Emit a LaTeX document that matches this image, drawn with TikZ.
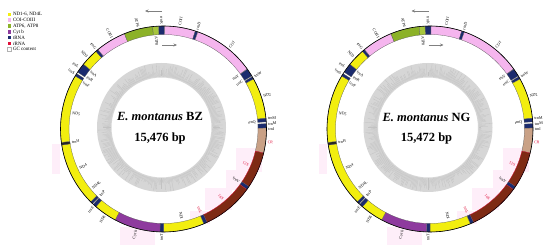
\documentclass[tikz,border=0pt]{standalone}
\usepackage{fontspec}
\setmainfont{Liberation Serif}
\usetikzlibrary{arrows.meta}
\definecolor{ndY}{HTML}{F2EE0F}
\definecolor{coxP}{HTML}{F5B5EE}
\definecolor{atpG}{HTML}{8CB228}
\definecolor{atpL}{HTML}{A6C63C}
\definecolor{cybP}{HTML}{8E3A9E}
\definecolor{trnB}{HTML}{1B2B6E}
\definecolor{rrnR}{HTML}{7E2A14}
\definecolor{crT}{HTML}{C9A186}
\definecolor{labR}{HTML}{E0103A}
\definecolor{blot}{HTML}{FEEEF9}
\newcommand\gRin{94.5}
\newcommand\gRout{103}
\newcommand{\gseg}[4][black!65]{\filldraw[fill=#4, draw=#1, line width=0.25pt] (#2:\gRin) arc[start angle=#2, end angle=#3, radius=\gRin] -- (#3:\gRout) arc[start angle=#3, end angle=#2, radius=\gRout] -- cycle;}
\newcommand{\olab}[3][black]{%
  \pgfmathtruncatemacro\gside{cos(#2)>-0.001}%
  \ifnum\gside=1 \def\grot{#2}\def\ganc{west}\else\pgfmathsetmacro\grot{#2+180}\def\ganc{east}\fi
  \node[glab, text=#1, rotate=\grot, anchor=\ganc] at (#2:104.5) {#3};}
\newcommand{\ilab}[3][black]{%
  \pgfmathtruncatemacro\gside{cos(#2)>-0.001}%
  \ifnum\gside=1 \def\grot{#2}\def\ganc{east}\else\pgfmathsetmacro\grot{#2+180}\def\ganc{west}\fi
  \node[glab, text=#1, rotate=\grot, anchor=\ganc] at (#2:93) {#3};}
\newcommand{\gmap}[2]{%
  % faint pink label backgrounds
  \fill[blot] (72.5,-43) rectangle (98.5,-19);
  \fill[blot] (62.5,-61) rectangle (84.5,-41);
  \fill[blot] (41.5,-81) rectangle (68.5,-59);
  \fill[blot] (26.5,-95) rectangle (46.5,-82);
  \fill[blot] (-111.5,-45) rectangle (-103.5,-15);
  \fill[blot] (-43.5,-116) rectangle (-8.5,-98);
  % GC content ring
  \begin{scope}[shift={(-2,1.5)}]
    \fill[gray!32, even odd rule] (0,0) circle[radius=64.5] (0,0) circle[radius=50];
    \foreach \a in {0,1.2,...,359}{\pgfmathsetmacro\gl{53+11.5*rnd}\draw[gray!48, line width=0.3pt] (\a:51) -- (\a:\gl);}
  \end{scope}
  \node[titlef] (title) at (-3.5,12) {\itshape E. montanus \upshape #1};
  \node[titlef] (size) at (-3.5,-9) {#2 bp};
  % strand arrows
  \draw[strandarrow] (-1.5,118) -- (-18.5,118);
  \draw[strandarrow] (-1.5,84) -- (13.5,84);
  % genes
  \gseg{92.8}{89.4}{trnB}
  \gseg{89.4}{72}{coxP}
  \gseg{72}{70.5}{trnB}
  \gseg{70.5}{35.7}{coxP}
  \gseg{35.5}{31}{trnB}
  \gseg{30.5}{29}{trnB}
  \gseg{29}{6}{ndY}
  \gseg{6}{4}{trnB}
  \gseg{3}{0.5}{trnB}
  \gseg{0.5}{-13.5}{crT}
  \gseg[labR]{-13.5}{-34}{rrnR}
  \gseg{-34}{-36}{trnB}
  \gseg[labR]{-36}{-65}{rrnR}
  \gseg{-65}{-67}{trnB}
  \gseg{-67}{-90}{ndY}
  \gseg{-90}{-92}{trnB}
  \gseg{-92}{-118}{cybP}
  \gseg{242}{229}{ndY}
  \gseg{229}{227}{trnB}
  \gseg{226.5}{225}{trnB}
  \gseg{225}{189}{ndY}
  \gseg{189}{187.5}{black!85}
  \gseg{187.5}{149}{ndY}
  \gseg{149}{147.5}{trnB}
  \gseg{146.5}{141}{trnB}
  \gseg{141}{131}{ndY}
  \gseg{131}{129.5}{trnB}
  \gseg{129.5}{112.3}{coxP}
  \gseg{112.3}{96.1}{atpG}
  \gseg{96.1}{92.8}{atpL}
  \draw[black, line width=0.6pt] (0,0) circle[radius=\gRout];
  % labels
  \olab{91}{trnK}
  \olab{81}{COII}
  \olab{71.2}{trnD}
  \olab{51}{COI}
  \ilab{35.5}{trnY}
  \ilab{31}{trnC}
  \olab{30}{trnW}
  \olab{18}{ND2}
  \olab{5.8}{trnM}
  \olab{2.8}{trnM}
  \olab{-0.2}{trnI}
  \ilab{4}{trnQ}
  \olab[labR]{-7}{CR}
  \ilab[labR]{-23}{12S}
  \ilab{-35}{trnV}
  \ilab[labR]{-50}{16S}
  \ilab[labR]{-66}{trnL}
  \ilab{-78.5}{ND1}
  \olab{-91}{trnT}
  \olab{-105}{Cyt b}
  \olab{236}{ND6}
  \olab{228}{trnE}
  \ilab{226.5}{trnP}
  \ilab{220}{ND4L}
  \ilab{205}{ND4}
  \ilab{188.2}{trnH}
  \ilab{170}{ND5}
  \ilab{150}{trnF}
  \olab{148}{trnS}
  \olab{144}{trnL}
  \ilab{146}{trnR}
  \ilab{141.8}{trnA}
  \olab{136.5}{ND3}
  \olab{130.2}{trnG}
  \olab{119.5}{COIII}
  \olab{104}{ATP6}
  \ilab{94.5}{ATP8}
}
\tikzset{
  glab/.style={font=\fontsize{4}{4.6}\selectfont, inner sep=0.3pt},
  titlef/.style={font=\fontsize{12.5}{14}\selectfont\bfseries, inner sep=0pt},
  strandarrow/.style={gray, line width=0.5pt, -{Stealth[length=3.5pt,width=3pt]}},
  legbox/.style={minimum size=3.6pt, inner sep=0pt, draw=none},
  legtext/.style={font=\fontsize{5}{6}\selectfont, anchor=west, inner sep=0pt}
}
\begin{document}
\begin{tikzpicture}[x=1pt,y=1pt]
\useasboundingbox (0,0) rectangle (550,251);
\fill[white] (0,0) rectangle (550,251);
% legend
\node[legbox, fill=ndY] (k1) at (9.3,236.5) {};
\node[legtext] (t1) at (12.8,236.5) {ND1-6, ND4L};
\node[legbox, fill=coxP] (k2) at (9.3,230.7) {};
\node[legtext] (t2) at (12.8,230.7) {COI-COIII};
\node[legbox, fill=atpG] (k3) at (9.3,224.9) {};
\node[legtext] (t3) at (12.8,224.9) {ATP6, ATP8};
\node[legbox, fill=cybP] (k4) at (9.3,219.1) {};
\node[legtext] (t4) at (12.8,219.1) {Cyt b};
\node[legbox, fill=trnB] (k5) at (9.3,213.3) {};
\node[legtext] (t5) at (12.8,213.3) {tRNA};
\node[legbox, fill=labR] (k6) at (9.3,207.5) {};
\node[legtext] (t6) at (12.8,207.5) {rRNA};
\node[legbox, fill=white, draw=gray!60, line width=0.2pt] (k7) at (9.3,201.7) {};
\node[legtext] (t7) at (12.8,201.7) {GC content};
% maps
\begin{scope}[shift={(163.5,122)}]
  \gmap{BZ}{15,476}
\end{scope}
\begin{scope}[shift={(430,122)}]
  \gmap{NG}{15,472}
\end{scope}
\end{tikzpicture}
\end{document}
